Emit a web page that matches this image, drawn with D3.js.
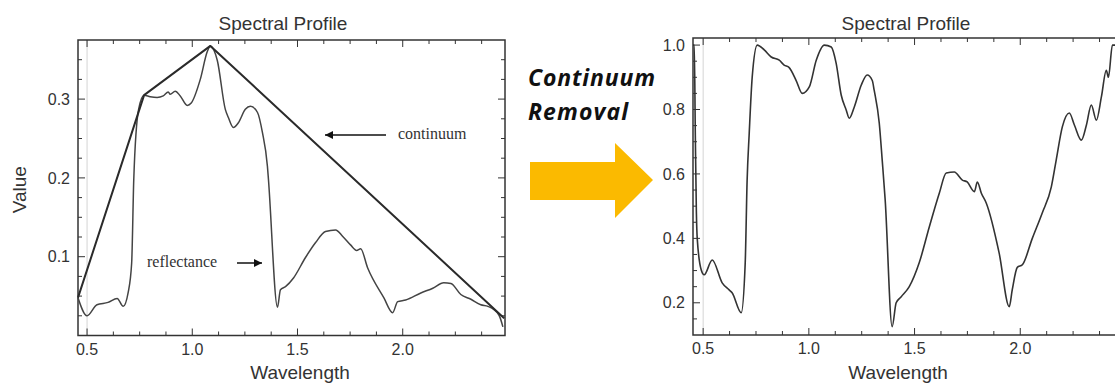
<!DOCTYPE html>
<html>
<head>
<meta charset="utf-8">
<script src="https://cdn.jsdelivr.net/npm/d3@7"></script>
<style>
  html, body { margin: 0; padding: 0; background: #fff; }
  svg { display: block; }
</style>
</head>
<body>
<svg id="chart" width="1115" height="383"></svg>
<script>
// ---------- DATA ----------
const chartTitle = "Spectral Profile";
const xAxisTitle = "Wavelength";
const yAxisTitle = "Value";
const wavelengthTicks = [0.5, 1.0, 1.5, 2.0];
const leftValueTicks = [0.1, 0.2, 0.3];
const rightValueTicks = [0.2, 0.4, 0.6, 0.8, 1.0];

const reflectanceWl = [0.457,0.50,0.547,0.60,0.643,0.672,0.695,0.712,0.722,0.745,0.771,0.80,0.833,0.862,0.886,0.895,0.919,0.943,0.976,0.995,1.038,1.071,1.086,1.119,1.157,1.171,1.195,1.219,1.252,1.276,1.31,1.333,1.357,1.362,1.405,1.419,1.443,1.481,1.538,1.586,1.633,1.681,1.714,1.752,1.781,1.80,1.833,1.91,1.952,1.976,2.014,2.086,2.143,2.195,2.229,2.276,2.324,2.371,2.405,2.457,2.476];
const reflectanceVal = [0.048,0.025,0.039,0.042,0.047,0.037,0.054,0.092,0.198,0.287,0.305,0.303,0.302,0.304,0.309,0.306,0.310,0.304,0.292,0.295,0.325,0.360,0.3675,0.349,0.287,0.277,0.264,0.270,0.287,0.291,0.283,0.258,0.215,0.198,0.036,0.058,0.062,0.073,0.099,0.118,0.132,0.134,0.126,0.115,0.108,0.110,0.086,0.048,0.029,0.043,0.045,0.054,0.060,0.067,0.066,0.052,0.046,0.039,0.037,0.026,0.011];

const continuumWl = [0.457, 0.771, 1.086, 2.482];
const continuumVal = [0.048, 0.305, 0.3675, 0.022];

const removedWl = [0.452,0.458,0.463,0.468,0.472,0.491,0.505,0.543,0.59,0.623,0.637,0.68,0.699,0.708,0.718,0.732,0.756,0.789,0.822,0.86,0.883,0.907,0.94,0.969,1.002,1.035,1.073,1.106,1.129,1.153,1.177,1.191,1.215,1.248,1.276,1.30,1.309,1.333,1.347,1.361,1.394,1.413,1.437,1.475,1.522,1.57,1.617,1.65,1.688,1.726,1.749,1.783,1.797,1.816,1.839,1.90,1.948,1.962,1.986,2.01,2.057,2.104,2.147,2.17,2.199,2.232,2.256,2.289,2.313,2.336,2.36,2.384,2.407,2.417,2.436,2.46,2.486];
const removedVal = [1.0,1.0,0.72,0.48,0.40,0.302,0.287,0.333,0.262,0.24,0.231,0.169,0.324,0.58,0.727,0.90,1.0,0.985,0.963,0.953,0.938,0.93,0.89,0.85,0.87,0.953,1.0,0.994,0.944,0.845,0.798,0.773,0.808,0.876,0.907,0.89,0.86,0.758,0.643,0.52,0.126,0.2,0.219,0.25,0.324,0.436,0.54,0.603,0.606,0.581,0.575,0.545,0.575,0.54,0.51,0.355,0.188,0.24,0.31,0.318,0.40,0.479,0.56,0.643,0.746,0.789,0.752,0.705,0.752,0.814,0.767,0.84,0.922,0.9,1.0,1.0,1.0];

const annotationContinuum = "continuum";
const annotationReflectance = "reflectance";
const middleLabel = ["Continuum", "Removal"];

// ---------- DRAW ----------
const svg = d3.select("#chart");
svg.append("rect").attr("width", 1115).attr("height", 383).attr("fill", "#fff");

const ink = "#333";
const sans = "'Liberation Sans', Arial, sans-serif";
const serif = "'Liberation Serif', 'Times New Roman', serif";

function panel(cfg) {
  const g = svg.append("g");
  const x = d3.scaleLinear().domain(cfg.xDomain).range(cfg.xRange);
  const y = d3.scaleLinear().domain(cfg.yDomain).range(cfg.yRange);
  const [x0, x1] = cfg.xRange, [y0, y1] = [cfg.yRange[1], cfg.yRange[0]];

  g.append("line").attr("x1", x(0.5)).attr("x2", x(0.5)).attr("y1", y0).attr("y2", y1)
    .attr("stroke", "#d4d4d4").attr("stroke-width", 1);

  const xMinor = d3.range(0.5, cfg.xDomain[1], 0.125);
  const yMinor = d3.range(cfg.yMinorStart, cfg.yDomain[1], cfg.yMinorStep);
  const isMajorX = v => wavelengthTicks.some(t => Math.abs(t - v) < 1e-6);
  const isMajorY = v => cfg.yTicks.some(t => Math.abs(t - v) < 1e-6);
  const tg = g.append("g").attr("stroke", ink).attr("stroke-width", 1);
  xMinor.forEach(v => {
    const L = isMajorX(v) ? 7 : 4;
    tg.append("line").attr("x1", x(v)).attr("x2", x(v)).attr("y1", y1).attr("y2", y1 - L);
    tg.append("line").attr("x1", x(v)).attr("x2", x(v)).attr("y1", y0).attr("y2", y0 + L);
  });
  yMinor.forEach(v => {
    const L = isMajorY(v) ? 7 : 4;
    tg.append("line").attr("x1", x0).attr("x2", x0 + L).attr("y1", y(v)).attr("y2", y(v));
    tg.append("line").attr("x1", x1).attr("x2", x1 - L).attr("y1", y(v)).attr("y2", y(v));
  });

  g.append("rect").attr("x", x0).attr("y", y0).attr("width", x1 - x0).attr("height", y1 - y0)
    .attr("fill", "none").attr("stroke", ink).attr("stroke-width", 1.5);

  g.selectAll(".xl").data(wavelengthTicks).enter().append("text")
    .attr("x", d => x(d)).attr("y", y1 + 19).attr("text-anchor", "middle")
    .attr("font-family", sans).attr("font-size", 16).attr("fill", ink)
    .text(d => d.toFixed(1));
  g.selectAll(".yl").data(cfg.yTicks).enter().append("text")
    .attr("x", x0 - 8).attr("y", d => y(d)).attr("dy", "0.35em").attr("text-anchor", "end")
    .attr("font-family", sans).attr("font-size", 16).attr("fill", ink)
    .text(d => d.toFixed(1));

  g.append("text").attr("x", cfg.titleX).attr("y", 30).attr("text-anchor", "middle")
    .attr("font-family", sans).attr("font-size", 19).attr("fill", ink).text(chartTitle);
  g.append("text").attr("x", cfg.xTitleX).attr("y", 379).attr("text-anchor", "middle")
    .attr("font-family", sans).attr("font-size", 19).attr("fill", ink).text(xAxisTitle);
  if (cfg.yTitle) {
    g.append("text").attr("transform", `translate(26,${(y0 + y1) / 2 + 2}) rotate(-90)`)
      .attr("text-anchor", "middle")
      .attr("font-family", sans).attr("font-size", 19).attr("fill", ink).text(yAxisTitle);
  }
  return {g, x, y};
}

// Left panel
const L = panel({
  xDomain: [0.457, 2.486], xRange: [78, 505],
  yDomain: [0, 0.375], yRange: [335.5, 40],
  yTicks: leftValueTicks, yMinorStart: 0.025, yMinorStep: 0.025,
  titleX: 283, xTitleX: 300, yTitle: true
});
const lineLs = d3.line().x(d => L.x(d[0])).y(d => L.y(d[1])).curve(d3.curveMonotoneX);
const lineL = d3.line().x(d => L.x(d[0])).y(d => L.y(d[1]));
L.g.append("path").datum(d3.zip(reflectanceWl, reflectanceVal))
  .attr("d", lineLs).attr("fill", "none").attr("stroke", "#444").attr("stroke-width", 1.5)
  .attr("stroke-linejoin", "round");
L.g.append("path").datum(d3.zip(continuumWl, continuumVal))
  .attr("d", lineL).attr("fill", "none").attr("stroke", "#2a2a2a").attr("stroke-width", 2)
  .attr("stroke-linejoin", "round");

const defs = svg.append("defs");
defs.append("marker").attr("id", "ah").attr("viewBox", "0 0 10 10").attr("refX", 10).attr("refY", 5)
  .attr("markerWidth", 11).attr("markerHeight", 8).attr("markerUnits", "userSpaceOnUse").attr("orient", "auto")
  .append("path").attr("d", "M0,0 L10,5 L0,10 Z").attr("fill", "#111");
L.g.append("line").attr("x1", 386).attr("x2", 325).attr("y1", 135).attr("y2", 135)
  .attr("stroke", "#111").attr("stroke-width", 1.5).attr("marker-end", "url(#ah)");
L.g.append("text").attr("x", 398).attr("y", 139).attr("font-family", serif).attr("font-size", 16)
  .attr("fill", "#333").text(annotationContinuum);
L.g.append("text").attr("x", 147).attr("y", 267).attr("font-family", serif).attr("font-size", 16)
  .attr("fill", "#333").text(annotationReflectance);
L.g.append("line").attr("x1", 237).attr("x2", 262).attr("y1", 263).attr("y2", 263)
  .attr("stroke", "#111").attr("stroke-width", 1.5).attr("marker-end", "url(#ah)");

// Middle label and arrow
const mid = svg.append("g");
mid.selectAll("text").data(middleLabel).enter().append("text")
  .attr("x", 528).attr("y", (d, i) => 86 + i * 34)
  .attr("font-family", "'Open Sans', sans-serif").attr("font-weight", "bold").attr("font-style", "italic")
  .attr("font-size", 23).attr("fill", "#111")
  .attr("textLength", (d, i) => i === 0 ? 127 : 100).attr("lengthAdjust", "spacing")
  .text(d => d);
mid.append("path")
  .attr("d", "M530,162 L615,162 L615,143 L653,180 L615,218 L615,200 L530,200 Z")
  .attr("fill", "#FBBA00");

// Right panel
const R = panel({
  xDomain: [0.452, 2.486], xRange: [693, 1123],
  yDomain: [0.1, 1.022], yRange: [335, 38],
  yTicks: rightValueTicks, yMinorStart: 0.15, yMinorStep: 0.05,
  titleX: 906, xTitleX: 898, yTitle: false
});
const lineR = d3.line().x(d => R.x(d[0])).y(d => R.y(d[1])).curve(d3.curveMonotoneX);
R.g.append("path").datum(d3.zip(removedWl, removedVal))
  .attr("d", lineR).attr("fill", "none").attr("stroke", "#333").attr("stroke-width", 1.6)
  .attr("stroke-linejoin", "round");
</script>
</body>
</html>
